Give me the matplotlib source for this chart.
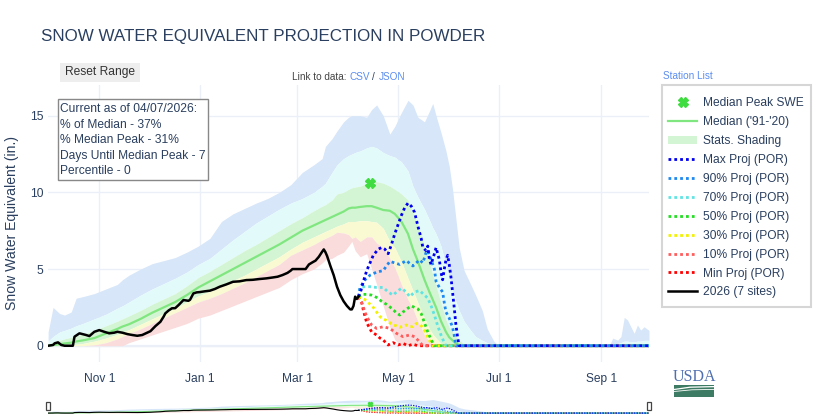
import numpy as np
import matplotlib.pyplot as plt
from matplotlib.patches import Rectangle, Patch
from matplotlib.lines import Line2D

plt.rcParams['font.family'] = ['Liberation Sans', 'DejaVu Sans']

# day of water year (0 = Oct 1)
stat_days = [0, 3, 7, 10, 14, 17, 21, 28, 35, 42, 45, 49,
             56, 63, 70, 77, 84, 91, 98, 105, 112, 119, 126, 133, 140, 147,
             154, 161, 166, 168, 172, 175, 179, 182, 184, 186, 189, 193, 196, 199,
             203, 207, 210, 214, 218, 221, 224, 228, 231, 233, 235, 238, 241, 243,
             245, 247, 249, 252, 256, 259, 263, 266, 270, 273, 300, 340, 342, 345,
             347, 349, 351, 353, 355, 357, 359, 361, 364]

max_swe = [0.9, 2.5, 2.1, 2.0, 2.2, 3.1, 3.2, 3.4, 3.7, 4.0, 4.3, 4.6,
           5.0, 5.35, 5.55, 5.75, 6.1, 6.5, 7.0, 8.1, 8.6, 8.95, 9.3, 9.6, 10.0, 10.5,
           11.3, 11.8, 12.2, 13.0, 13.5, 14.0, 14.6, 14.9, 15.0, 15.0, 15.0, 14.9, 15.4, 15.7,
           15.0, 13.8, 14.3, 15.2, 16.0, 15.7, 14.9, 14.6, 15.3, 15.8, 15.0, 13.9, 12.7, 11.7,
           10.2, 8.3, 6.4, 4.9, 4.0, 3.3, 2.3, 1.1, 0.3, 0.0, 0.0, 0.0, 0.5, 0.37,
           0.6, 1.85, 1.68, 1.24, 0.81, 1.35, 1.02, 1.24, 1.0]
p90 = [0.3, 0.6, 0.9, 1.0, 1.15, 1.3, 1.45, 1.75, 2.05, 2.45, 2.6, 2.85,
       3.3, 3.7, 4.05, 4.4, 4.8, 5.3, 5.7, 6.3, 6.9, 7.45, 8.0, 8.45, 8.9, 9.3,
       9.6, 10.0, 10.4, 10.6, 11.3, 11.8, 12.2, 12.4, 12.5, 12.6, 12.7, 12.9, 13.0, 12.9,
       12.6, 12.4, 12.3, 12.0, 11.4, 10.4, 9.7, 8.9, 8.2, 7.7, 7.3, 6.5, 5.2, 4.5,
       3.6, 2.9, 2.3, 1.6, 1.0, 0.6, 0.35, 0.2, 0.05, 0.0, 0.0, 0.0, 0.1, 0.15,
       0.2, 0.3, 0.3, 0.25, 0.25, 0.3, 0.3, 0.35, 0.35]
p70 = [0.1, 0.2, 0.35, 0.45, 0.55, 0.65, 0.75, 1.0, 1.3, 1.6, 1.75, 1.95,
       2.3, 2.7, 3.05, 3.4, 3.9, 4.45, 4.85, 5.3, 5.75, 6.2, 6.6, 7.05, 7.5, 7.95,
       8.35, 8.8, 9.1, 9.2, 9.5, 9.9, 10.0, 10.2, 10.3, 10.35, 10.4, 10.6, 10.7, 10.7,
       10.6, 10.4, 10.2, 9.9, 9.5, 8.7, 7.9, 6.5, 5.5, 4.6, 3.9, 2.8, 1.7, 1.2,
       0.9, 0.6, 0.37, 0.1, 0.0, 0.0, 0.0, 0.0, 0.0, 0.0, 0.0, 0.0, 0.0, 0.0,
       0.0, 0.0, 0.0, 0.0, 0.0, 0.0, 0.0, 0.0, 0.0]
median = [0.0, 0.05, 0.1, 0.15, 0.2, 0.28, 0.35, 0.5, 0.8, 1.1, 1.25, 1.4,
          1.75, 2.15, 2.5, 2.85, 3.3, 3.8, 4.2, 4.6, 5.0, 5.4, 5.8, 6.2, 6.6, 7.05,
          7.5, 7.85, 8.1, 8.2, 8.4, 8.55, 8.75, 8.95, 9.0, 9.0, 9.05, 9.1, 9.1, 9.0,
          8.85, 8.8, 8.6, 8.1, 7.3, 6.3, 5.5, 4.3, 3.5, 3.0, 2.5, 1.6, 0.9, 0.55,
          0.35, 0.15, 0.05, 0.0, 0.0, 0.0, 0.0, 0.0, 0.0, 0.0, 0.0, 0.0, 0.0, 0.0,
          0.0, 0.0, 0.0, 0.0, 0.0, 0.0, 0.0, 0.0, 0.0]
p30 = [0.0, 0.0, 0.0, 0.02, 0.05, 0.1, 0.15, 0.3, 0.5, 0.75, 0.9, 1.05,
       1.4, 1.75, 2.1, 2.45, 2.85, 3.25, 3.55, 3.9, 4.25, 4.6, 5.0, 5.4, 5.8, 6.3,
       6.75, 7.1, 7.35, 7.45, 7.65, 7.8, 7.95, 8.1, 8.1, 8.1, 8.15, 8.15, 8.1, 8.05,
       7.65, 6.8, 6.4, 5.5, 4.4, 3.6, 2.8, 1.8, 1.1, 0.75, 0.5, 0.15, 0.0, 0.0,
       0.0, 0.0, 0.0, 0.0, 0.0, 0.0, 0.0, 0.0, 0.0, 0.0, 0.0, 0.0, 0.0, 0.0,
       0.0, 0.0, 0.0, 0.0, 0.0, 0.0, 0.0, 0.0, 0.0]
p10 = [0.0, 0.0, 0.0, 0.0, 0.0, 0.0, 0.0, 0.05, 0.2, 0.45, 0.6, 0.8,
       1.1, 1.45, 1.8, 2.15, 2.5, 2.85, 3.1, 3.4, 3.75, 4.1, 4.5, 4.9, 5.3, 5.9,
       6.25, 6.6, 6.9, 7.0, 7.2, 7.4, 7.35, 7.25, 7.0, 7.1, 6.8, 7.1, 7.1, 6.7,
       6.4, 5.7, 5.1, 4.0, 3.0, 2.4, 1.6, 0.7, 0.26, 0.1, 0.0, 0.0, 0.0, 0.0,
       0.0, 0.0, 0.0, 0.0, 0.0, 0.0, 0.0, 0.0, 0.0, 0.0, 0.0, 0.0, 0.0, 0.0,
       0.0, 0.0, 0.0, 0.0, 0.0, 0.0, 0.0, 0.0, 0.0]
min_swe = [0.0, 0.0, 0.0, 0.0, 0.0, 0.0, 0.0, 0.0, 0.0, 0.0, 0.0, 0.2,
           0.45, 0.7, 0.95, 1.2, 1.45, 1.8, 2.0, 2.3, 2.6, 2.9, 3.2, 3.5, 3.8, 4.3,
           4.7, 5.0, 5.4, 5.6, 5.7, 5.9, 6.1, 6.5, 6.8, 6.2, 5.8, 6.0, 5.0, 4.0,
           2.6, 1.2, 0.4, 0.0, 0.0, 0.0, 0.0, 0.0, 0.0, 0.0, 0.0, 0.0, 0.0, 0.0,
           0.0, 0.0, 0.0, 0.0, 0.0, 0.0, 0.0, 0.0, 0.0, 0.0, 0.0, 0.0, 0.0, 0.0,
           0.0, 0.0, 0.0, 0.0, 0.0, 0.0, 0.0, 0.0, 0.0]

peak_day = 195
peak_swe = 10.6

wy2026_days = [0, 3, 4, 6, 8, 10, 15, 16, 19, 23, 25, 28, 31, 34, 37, 40, 42, 45, 48, 51,
               54, 57, 60, 62, 65, 68, 70, 71, 73, 75, 77, 79, 82, 85, 86, 88, 90, 92, 95, 98,
               101, 104, 108, 112, 116, 120, 124, 128, 132, 136, 139, 142, 145, 147, 148, 152,
               156, 158, 160, 162, 164, 166, 167, 168, 169, 171, 173, 175, 177, 179, 181, 183,
               184, 185, 186, 187, 188]
wy2026 = [0.0, 0.05, 0.16, 0.22, 0.05, 0.0, 0.0, 0.59, 0.81, 0.7, 0.63, 0.91, 1.02, 0.91, 0.81,
          0.85, 0.91, 0.85, 0.76, 0.7, 0.65, 0.7, 0.85, 0.95, 1.28, 1.56, 1.9, 2.11, 2.3, 2.44,
          2.45, 2.65, 2.98, 2.93, 3.0, 3.41, 3.48, 3.5, 3.55, 3.59, 3.7, 3.85, 4.0, 4.17, 4.2,
          4.28, 4.3, 4.35, 4.39, 4.45, 4.5, 4.61, 4.75, 4.9, 5.0, 5.0, 5.0, 5.3, 5.43, 5.55,
          5.8, 6.13, 6.28, 6.1, 5.85, 5.2, 4.6, 3.85, 3.3, 2.9, 2.6, 2.37, 2.37, 2.6, 3.2,
          3.05, 3.2]

proj_max_days = [188, 189, 191, 193, 195, 197, 200, 202, 204, 206, 208, 210, 212, 214, 216, 218,
                 220, 222, 224, 226, 227, 229, 230, 231, 232, 234, 235, 236, 237, 238, 239, 240,
                 241, 242, 243, 244, 245, 246, 247, 248, 249, 364]
proj_max = [3.2, 3.4, 4.2, 4.9, 5.4, 5.9, 6.3, 6.4, 6.3, 6.0, 6.6, 7.3, 7.9, 8.5, 9.0, 9.3,
            9.1, 8.7, 7.8, 7.0, 6.4, 6.2, 6.5, 5.6, 5.3, 6.0, 6.4, 6.0, 5.6, 4.8, 4.3, 5.0,
            5.6, 5.9, 5.3, 4.5, 3.5, 2.5, 1.4, 0.6, 0.0, 0.0]
proj_90_days = [188, 189, 192, 195, 199, 203, 207, 210, 213, 217, 221, 225, 227, 229, 230, 232,
                234, 235, 237, 239, 240, 241, 243, 245, 246, 247, 364]
proj_90 = [3.2, 3.8, 4.3, 4.6, 4.8, 4.9, 5.5, 5.4, 5.3, 5.55, 5.2, 5.6, 5.4, 6.1, 6.2, 5.6,
           5.0, 4.2, 3.8, 3.5, 2.8, 2.2, 1.8, 1.2, 0.7, 0.0, 0.0]
proj_70_days = [188, 189, 192, 195, 199, 203, 206, 209, 211, 214, 217, 219, 222, 225, 228, 230,
                232, 234, 236, 238, 240, 241, 364]
proj_70 = [3.2, 3.8, 3.85, 3.85, 3.8, 3.8, 3.5, 3.3, 3.5, 3.75, 3.5, 3.2, 3.5, 3.6, 3.3, 3.1,
           2.6, 2.0, 1.3, 0.7, 0.2, 0.0, 0.0]
proj_50_days = [188, 190, 193, 196, 199, 202, 205, 208, 211, 213, 215, 218, 220, 222, 224, 226,
                228, 230, 232, 234, 364]
proj_50 = [3.2, 3.35, 3.35, 3.3, 3.15, 2.9, 2.7, 2.45, 2.15, 2.0, 2.2, 2.45, 2.6, 2.5, 2.4, 2.1,
           1.5, 0.9, 0.4, 0.0, 0.0]
proj_30_days = [188, 190, 193, 195, 197, 199, 201, 203, 205, 207, 209, 211, 213, 215, 217, 219,
                221, 223, 225, 227, 229, 230, 232, 233, 364]
proj_30 = [3.2, 3.1, 2.95, 2.7, 2.5, 2.2, 1.9, 1.75, 1.65, 1.5, 1.35, 1.3, 1.2, 1.3, 1.35, 1.25,
           1.25, 1.45, 1.4, 1.2, 0.8, 0.55, 0.15, 0.0, 0.0]
proj_10_days = [188, 190, 191, 193, 196, 199, 203, 207, 211, 215, 219, 222, 225, 227, 364]
proj_10 = [3.2, 2.8, 2.5, 1.9, 1.35, 1.13, 1.24, 1.13, 0.81, 0.59, 0.7, 0.59, 0.26, 0.0, 0.0]
proj_min_days = [188, 190, 191, 193, 196, 199, 201, 203, 206, 209, 212, 215, 218, 221, 224, 364]
proj_min = [3.2, 2.8, 2.3, 1.5, 0.9, 0.7, 0.5, 0.37, 0.05, 0.2, 0.05, 0.15, 0.0, 0.1, 0.0, 0.0]

tick_days = [31, 92, 151, 212, 273, 335]
tick_labels = ['Nov 1', 'Jan 1', 'Mar 1', 'May 1', 'Jul 1', 'Sep 1']

info_lines = ['Current as of 04/07/2026:', '% of Median - 37%', '% Median Peak - 31%',
              'Days Until Median Peak - 7', 'Percentile - 0']

TXT = '#2a3f5f'
band_colors = ['#d7e6f9', '#e3fafb', '#d3f5d3', '#fafad2', '#fadcdc']
median_color = '#80e680'
peak_color = '#3fdc3f'
projections = [
    (proj_max_days, proj_max, '#0000ee', 'Max Proj (POR)'),
    (proj_90_days, proj_90, '#1e88f0', '90% Proj (POR)'),
    (proj_70_days, proj_70, '#5fe3e3', '70% Proj (POR)'),
    (proj_50_days, proj_50, '#22dd22', '50% Proj (POR)'),
    (proj_30_days, proj_30, '#f2f200', '30% Proj (POR)'),
    (proj_10_days, proj_10, '#ff5c5c', '10% Proj (POR)'),
    (proj_min_days, proj_min, '#ff0000', 'Min Proj (POR)'),
]

W, H = 816, 420
fig = plt.figure(figsize=(W / 100, H / 100), dpi=100)


def px_rect(x0, y0, x1, y1):
    return [x0 / W, 1 - y1 / H, (x1 - x0) / W, (y1 - y0) / H]


def draw_swe(a, s):
    bounds = [max_swe, p90, p70, p30, p10, min_swe]
    for i, c in enumerate(band_colors):
        a.fill_between(stat_days, bounds[i + 1], bounds[i], color=c, lw=0, zorder=1)
    a.plot(stat_days, median, color=median_color, lw=1.6 * s, zorder=2)
    # min drawn first so the max projection ends up on top
    for days, vals, c, lab in projections[::-1]:
        a.plot(days, vals, color=c, lw=2.0 * s, ls=(0, (1, 1.1)), zorder=3)
    a.plot(wy2026_days, wy2026, color='black', lw=1.8 * s, zorder=4)
    a.plot([peak_day], [peak_swe], ls='none', marker='X', ms=7 * s, color=peak_color,
           mec=peak_color, zorder=5)
    a.set_xlim(0, 364)
    a.set_ylim(-1.06, 17.0)


ax = fig.add_axes(px_rect(48.1, 85, 649, 362))
draw_swe(ax, 1.0)
ax.set_xticks(tick_days)
ax.set_xticklabels(tick_labels)
ax.set_yticks([0, 5, 10, 15])
ax.grid(True, color='#ebf0f8', lw=1)
ax.set_axisbelow(True)
ax.axhline(0, color='#ebf0f8', lw=1.6, zorder=0.5)
ax.tick_params(length=0, labelsize=8.64, labelcolor=TXT)
ax.tick_params(axis='x', pad=8)
ax.tick_params(axis='y', pad=3.5)
for sp in ax.spines.values():
    sp.set_visible(False)

handles = [Line2D([], [], ls='none', marker='X', ms=7, color=peak_color),
           Line2D([], [], color=median_color, lw=1.6),
           Patch(facecolor='#d3f5d3', edgecolor='none')]
labels = ['Median Peak SWE', "Median ('91-'20)", 'Stats. Shading']
for days, vals, c, lab in projections:
    handles.append(Line2D([], [], color=c, lw=2.0, ls=(0, (1, 1.1))))
    labels.append(lab)
handles.append(Line2D([], [], color='black', lw=1.8))
labels.append('2026 (7 sites)')
leg = ax.legend(handles, labels, loc='upper left', bbox_to_anchor=(668 / W, 1 - 97.5 / H),
                bbox_transform=fig.transFigure, fontsize=8.64, frameon=False,
                labelspacing=0.575, handlelength=2.45, handletextpad=0.5,
                borderpad=0, borderaxespad=0)
for t in leg.get_texts():
    t.set_color(TXT)

# range slider
slider = fig.add_axes(px_rect(48.1, 398.5, 649, 414))
draw_swe(slider, 0.45)
slider.axis('off')

# page furniture in pixel coordinates
ov = fig.add_axes([0, 0, 1, 1])
ov.set_xlim(0, W)
ov.set_ylim(H, 0)
ov.axis('off')

ov.add_patch(Rectangle((662, 85), 149, 222, facecolor='none', edgecolor='#d6d6d6', lw=1.5))

ov.text(41, 37, 'SNOW WATER EQUIVALENT PROJECTION IN POWDER', fontsize=12.24, color=TXT,
        va='center', ha='left')
ov.add_patch(Rectangle((60, 63), 80, 19, facecolor='#eeeeee', edgecolor='none'))
ov.text(100, 72.5, 'Reset Range', fontsize=8.64, color='#333333', ha='center', va='center')
ov.text(292, 77, 'Link to data: ', fontsize=7.2, color='#444444', ha='left', va='center')
ov.text(349.3, 77, 'CSV', fontsize=7.2, color='#5b8def', ha='left', va='center')
ov.text(372.5, 77, '/', fontsize=7.2, color=TXT, ha='left', va='center')
ov.text(378.7, 77, 'JSON', fontsize=7.2, color='#5b8def', ha='left', va='center')
ov.text(663, 76, 'Station List', fontsize=7.2, color='#5b8def', ha='left', va='center')
ov.text(12, 223.5, 'Snow Water Equivalent (in.)', fontsize=10.08, color=TXT, rotation=90,
        ha='center', va='center')

ov.add_patch(Rectangle((57.7, 99.3), 150.6, 80.7, facecolor='white', edgecolor='#888888', lw=1))
for i, line in enumerate(info_lines):
    ov.text(60.5, 109.5 + i * 15.4, line, fontsize=8.64, color=TXT, ha='left', va='center')

# slider grab handles
for hx in (45.5, 646.5):
    ov.add_patch(Rectangle((hx, 402), 4.5, 8, facecolor='white', edgecolor='#444444', lw=0.9))

# USDA logo
ov.text(694, 377, 'USDA', family=['Liberation Serif', 'DejaVu Serif'], fontsize=11.5,
        color='#4f70b0', ha='center', va='center')
ov.add_patch(Rectangle((674, 384.5), 40, 12.5, facecolor='#3e7b64', edgecolor='none'))
ov.plot([674, 690, 714], [389.5, 387.2, 386.6], color='white', lw=0.9)
ov.plot([674, 692, 714], [391.5, 389.8, 389.4], color='white', lw=0.6)

fig.savefig('out.png', dpi=100)
